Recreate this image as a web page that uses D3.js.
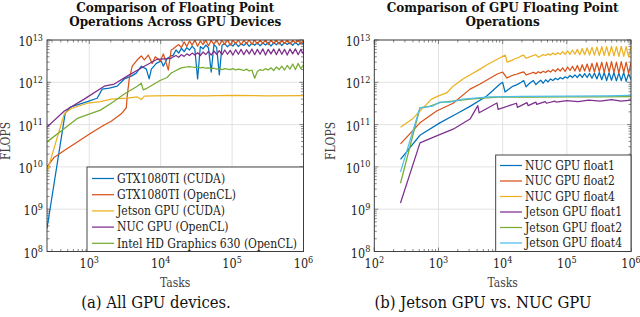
<!DOCTYPE html>
<html>
<head>
<meta charset="utf-8">
<script src="https://cdn.jsdelivr.net/npm/d3@7"></script>
<style>
  body { margin: 0; background: #fff; }
  svg { display: block; font-family: "DejaVu Serif Condensed", "DejaVu Serif", serif; }
</style>
</head>
<body>
<svg id="fig" width="640" height="317"></svg>
<script>
  // ------------------------------------------------------------
  // Data (tasks, FLOPS). Tail values are in units of 1e12 FLOPS
  // and share the task grid below.
  // ------------------------------------------------------------
  const tailTasks = [
    15000, 16400, 17900, 19500, 21300, 23200, 25300, 27600, 30100, 32900,
    35900, 39200, 42800, 46700, 51000, 55700, 60800, 66300, 72400, 79000,
    86200, 94100, 102700, 112100, 122400, 133600, 145800, 159200, 173700, 189600,
    207000, 225900, 246600, 269200, 293800, 320700, 350100, 382100, 417100, 455300,
    497000, 542500, 592200, 646400, 705600, 770200, 840700, 917700, 1000000
  ];

  // (a) all GPU devices
  const gtxCudaHead = [[256, 3.5e8], [460, 1.86e11], [540, 2.6e11], [940, 3.5e11], [1290, 4.2e11],
    [1520, 6.9e11], [1910, 7.3e11], [2460, 8.1e11], [3100, 1.2e12], [3880, 1.4e12], [4560, 1.65e12],
    [5360, 2.4e12], [6300, 2.05e12], [6900, 1.2e12], [7400, 2.05e12], [8700, 2.8e12], [10200, 3.2e12],
    [10900, 2.4e12], [12400, 3.7e12], [14000, 4.2e12]];
  const gtxCudaTail = [4.4, 5.8, 4.9, 6.4, 5.3, 6.6, 5.8, 7.2, 6.0, 1.2, 7.0, 6.2, 7.6, 6.5, 1.75, 7.8, 6.7,
    1.5, 7.5, 8.2, 6.9, 8.0, 7.2, 8.5, 7.0, 8.2, 7.4, 8.6, 7.1, 8.4, 7.5, 8.7, 7.3, 8.5, 7.6, 8.8, 7.2,
    8.6, 7.7, 8.9, 7.4, 8.7, 7.8, 8.8, 7.5, 8.9, 7.6, 8.6, 7.9];

  const gtxClHead = [[256, 1.0e10], [324, 1.7e10], [447, 2.45e10], [680, 3.9e10], [1060, 6.3e10],
    [1620, 9.8e10], [2030, 1.2e11], [2810, 1.8e11], [3300, 2.5e11], [3400, 4.7e11], [3630, 1.2e12],
    [4000, 2.4e12], [4700, 3.4e12], [5350, 4.2e12], [5900, 3.4e12], [6700, 4.4e12], [7600, 2.8e12],
    [8400, 4.0e12], [9900, 3.2e12], [10900, 4.7e12], [12800, 1.95e12], [14000, 5.8e12]];
  const gtxClTail = [6.2, 7.0, 7.8, 6.6, 9.0, 7.0, 9.5, 7.6, 10.0, 7.1, 9.5, 7.8, 9.9, 7.3, 9.7, 8.0,
    10.0, 7.5, 9.8, 7.9, 10.0, 7.6, 9.9, 8.1, 10.0, 7.7, 9.8, 8.2, 10.0, 7.9, 10.0, 8.0, 9.9, 8.3, 10.0,
    7.8, 10.0, 8.2, 9.9, 8.0, 10.0, 8.3, 10.0, 8.1, 9.9, 8.4, 10.0, 8.0, 9.8];

  const jetsonCuda = [[256, 7.6e9], [447, 1.8e11], [560, 2.4e11], [940, 3.2e11], [1430, 3.5e11],
    [2030, 4.0e11], [3400, 4.2e11], [4700, 4.5e11], [5350, 3.9e11], [5900, 4.7e11], [8000, 4.8e11],
    [15000, 4.85e11], [40000, 4.8e11], [100000, 4.9e11], [300000, 4.8e11], [1000000, 4.85e11]];

  const nucClHead = [[256, 8.7e10], [447, 2.1e11], [850, 4.0e11], [1620, 8.1e11], [2240, 9.1e11],
    [3400, 1.4e12], [5900, 2.4e12], [8950, 3.5e12], [14000, 3.7e12]];
  const nucClTail = [4.0, 4.3, 3.9, 4.5, 4.1, 4.7, 4.3, 4.9, 4.4, 5.0, 4.3, 5.2, 4.5, 5.4, 4.4, 5.5, 4.6,
    5.6, 4.5, 5.8, 4.6, 5.7, 4.4, 5.9, 4.6, 6.0, 4.5, 5.9, 4.7, 6.1, 4.5, 6.0, 4.6, 6.2, 4.4, 6.0, 4.7,
    6.1, 4.5, 6.2, 4.6, 6.0, 4.4, 6.1, 4.7, 6.2, 4.5, 6.0, 4.6];

  const intelHead = [[256, 3.9e10], [680, 1.4e11], [1430, 2.2e11], [2030, 3.2e11], [3100, 5.3e11],
    [4700, 8.1e11], [5350, 9.5e11], [5700, 6.6e11], [6500, 7.3e11], [9800, 1.1e12], [12300, 1.3e12],
    [14000, 1.65e12]];
  const intelTail = [1.75, 1.9, 2.05, 2.2, 2.25, 2.3, 2.35, 2.3, 2.25, 2.3, 2.2, 2.25, 2.15, 2.2, 2.1,
    2.15, 2.05, 2.1, 2.0, 2.1, 2.05, 2.0, 2.1, 1.95, 2.05, 2.0, 1.9, 2.05, 1.85, 1.95, 1.25, 1.8, 2.0,
    1.9, 2.1, 1.95, 2.2, 1.9, 2.3, 2.0, 2.4, 1.95, 2.5, 2.05, 2.7, 2.0, 2.8, 2.1, 2.6];

  // (b) Jetson GPU vs. NUC GPU
  const nucF1Head = [[256, 1.5e10], [515, 5.6e10], [1050, 1.1e11], [1920, 1.8e11], [3100, 2.7e11],
    [5600, 4.7e11], [9100, 9.1e11], [10000, 1.0e12], [10900, 5.9e11], [14000, 7.9e11]];
  const nucF1Tail = [0.82, 0.87, 0.93, 1.0, 1.1, 0.78, 0.9, 1.0, 1.1, 0.88, 1.0, 1.12, 0.95, 1.15, 1.02,
    1.2, 1.1, 1.25, 1.15, 1.3, 1.2, 1.35, 1.25, 1.45, 1.3, 1.5, 1.3, 1.55, 1.3, 1.6, 1.3, 1.62, 1.25,
    1.65, 1.2, 1.7, 1.15, 1.7, 1.1, 1.68, 1.12, 1.7, 1.08, 1.65, 1.1, 1.7, 1.05, 1.6, 1.15];

  const nucF2Head = [[256, 3.5e10], [515, 1.1e11], [935, 2.1e11], [1690, 3.2e11], [3100, 6.9e11],
    [4450, 9.1e11], [8100, 1.55e12], [10000, 1.75e12], [11700, 1.26e12], [14000, 1.45e12]];
  const nucF2Tail = [1.5, 1.55, 1.62, 1.7, 1.76, 1.5, 1.56, 1.64, 1.72, 1.6, 1.78, 1.65, 1.82, 1.7, 1.9,
    1.75, 2.0, 1.8, 2.1, 1.85, 2.2, 1.8, 2.3, 1.9, 2.4, 1.85, 2.5, 1.8, 2.6, 1.85, 2.7, 1.8, 2.8, 1.75,
    2.9, 1.8, 3.0, 1.7, 3.0, 1.75, 3.1, 1.7, 3.0, 1.65, 3.1, 1.7, 3.0, 1.6, 2.9];

  const nucF4Head = [[256, 8.7e10], [400, 1.4e11], [780, 4.0e11], [980, 4.7e11], [1340, 5.6e11],
    [1690, 8.1e11], [2410, 1.2e12], [4450, 2.05e12], [5700, 2.6e12], [9100, 3.8e12], [11000, 4.4e12],
    [11700, 3.0e12], [14000, 3.3e12]];
  const nucF4Tail = [3.5, 3.7, 3.9, 4.2, 4.4, 3.7, 3.9, 4.1, 4.3, 4.5, 3.9, 4.2, 4.5, 4.3, 4.7, 4.4, 4.9,
    4.5, 5.0, 4.6, 5.3, 4.6, 5.5, 4.6, 5.8, 4.6, 6.0, 4.5, 6.3, 4.5, 6.5, 4.4, 6.7, 4.4, 6.8, 4.3, 7.0,
    4.3, 7.0, 4.2, 7.1, 4.2, 7.0, 4.1, 7.1, 4.1, 7.0, 4.0, 6.9];

  const jetF1 = [[256, 1.4e9], [515, 3.7e10], [935, 5.4e10], [1690, 7.8e10], [3100, 1.35e11],
    [4100, 2.8e11], [4300, 1.9e11], [8150, 3.25e11], [8500, 2.3e11], [16400, 3.2e11], [17000, 2.55e11],
    [24000, 3.3e11], [25000, 2.8e11], [33000, 3.4e11], [34000, 3.0e11], [46000, 3.5e11], [48000, 3.2e11],
    [65000, 3.6e11], [68000, 3.4e11], [100000, 3.7e11], [150000, 3.5e11], [220000, 3.8e11],
    [330000, 3.6e11], [500000, 3.9e11], [700000, 3.6e11], [1000000, 3.8e11]];
  const jetF2 = [[256, 4.1e9], [515, 2.5e11], [740, 2.75e11], [1050, 3.3e11], [1690, 3.6e11],
    [3100, 4.0e11], [5600, 4.3e11], [10000, 4.5e11], [30000, 4.45e11], [100000, 4.55e11],
    [300000, 4.5e11], [1000000, 4.6e11]];
  const jetF4 = [[256, 7.6e9], [515, 2.5e11], [820, 2.75e11], [1050, 3.4e11], [1500, 3.4e11],
    [2400, 4.0e11], [4000, 4.3e11], [6300, 4.5e11], [20000, 4.65e11], [100000, 4.7e11],
    [400000, 4.75e11], [1000000, 4.9e11]];

  const labelsA = ["GTX1080TI (CUDA)", "GTX1080TI (OpenCL)", "Jetson GPU (CUDA)",
    "NUC GPU (OpenCL)", "Intel HD Graphics 630 (OpenCL)"];
  const labelsB = ["NUC GPU float1", "NUC GPU float2", "NUC GPU float4",
    "Jetson GPU float1", "Jetson GPU float2", "Jetson GPU float4"];
  const colors = ["#0072bd", "#d95319", "#edb120", "#7e2f8e", "#77ac30", "#4dbeee"];

  const withTail = (head, tail) => head.concat(tailTasks.map((t, i) => [t, tail[i] * 1e12]));

  const panels = [
    {
      id: "a", left: 47, right: 303.5, top: 40, bottom: 251.5, xDomain: [256, 1e6],
      title: ["Comparison of Floating Point", "Operations Across GPU Devices"],
      caption: "(a) All GPU devices.", captionX: 156, ylabelX: 10,
      series: [withTail(gtxCudaHead, gtxCudaTail), withTail(gtxClHead, gtxClTail), jetsonCuda,
        withTail(nucClHead, nucClTail), withTail(intelHead, intelTail)],
      labels: labelsA,
      legend: { x: 87, y: 167, w: 216.5, h: 84.5, row0: 178.5, step: 16.2, lx0: 92, lx1: 114, tx: 117 }
    },
    {
      id: "b", left: 374.3, right: 631, top: 40, bottom: 251.5, xDomain: [100, 1e6],
      title: ["Comparison of GPU Floating Point", "Operations"],
      caption: "(b) Jetson GPU vs. NUC GPU", captionX: 483, ylabelX: 335,
      series: [withTail(nucF1Head, nucF1Tail), withTail(nucF2Head, nucF2Tail), withTail(nucF4Head, nucF4Tail),
        jetF1, jetF2, jetF4],
      labels: labelsB,
      legend: { x: 495.7, y: 155, w: 135.3, h: 96.5, row0: 165.5, step: 15.5, lx0: 500, lx1: 522, tx: 525 }
    }
  ];

  const svg = d3.select("#fig");

  function drawPanel(p) {
    const x = d3.scaleLog().domain(p.xDomain).range([p.left, p.right]);
    const y = d3.scaleLog().domain([1e8, 1e13]).range([p.bottom, p.top]);
    const g = svg.append("g");
    const isMajor = v => Math.abs(Math.log10(v) - Math.round(Math.log10(v))) < 1e-9;
    const xt = x.ticks(), yt = y.ticks();

    g.append("clipPath").attr("id", "clip-" + p.id).append("rect")
      .attr("x", p.left).attr("y", p.top)
      .attr("width", p.right - p.left).attr("height", p.bottom - p.top);

    // Major grid
    const grid = g.append("g").attr("stroke", "#dcdcdc").attr("stroke-width", 0.8);
    xt.filter(isMajor).forEach(v => grid.append("line")
      .attr("x1", x(v)).attr("x2", x(v)).attr("y1", p.top).attr("y2", p.bottom));
    yt.filter(isMajor).forEach(v => grid.append("line")
      .attr("x1", p.left).attr("x2", p.right).attr("y1", y(v)).attr("y2", y(v)));

    // Ticks, inside on all four sides
    const ticks = g.append("g").attr("stroke", "#555").attr("stroke-width", 0.7);
    xt.forEach(v => {
      const len = isMajor(v) ? 4 : 2.5;
      ticks.append("line").attr("x1", x(v)).attr("x2", x(v)).attr("y1", p.bottom).attr("y2", p.bottom - len);
      ticks.append("line").attr("x1", x(v)).attr("x2", x(v)).attr("y1", p.top).attr("y2", p.top + len);
    });
    yt.forEach(v => {
      const len = isMajor(v) ? 4 : 2.5;
      ticks.append("line").attr("x1", p.left).attr("x2", p.left + len).attr("y1", y(v)).attr("y2", y(v));
      ticks.append("line").attr("x1", p.right).attr("x2", p.right - len).attr("y1", y(v)).attr("y2", y(v));
    });

    // Series
    const line = d3.line().x(d => x(d[0])).y(d => y(d[1]));
    const lines = g.append("g").attr("clip-path", "url(#clip-" + p.id + ")");
    p.series.forEach((s, i) => {
      lines.append("path").attr("d", line(s))
        .attr("fill", "none").attr("stroke", colors[i])
        .attr("stroke-width", 1.25).attr("stroke-linejoin", "round");
    });

    // Frame
    g.append("rect").attr("x", p.left).attr("y", p.top)
      .attr("width", p.right - p.left).attr("height", p.bottom - p.top)
      .attr("fill", "none").attr("stroke", "#333").attr("stroke-width", 0.9);

    // Tick labels
    const power = (sel, v) => {
      sel.append("tspan").text("10");
      sel.append("tspan").attr("dy", -5.5).attr("font-size", 9).text(Math.round(Math.log10(v)));
    };
    xt.filter(isMajor).forEach(v => {
      g.append("text").attr("x", x(v)).attr("y", 268).attr("text-anchor", "middle")
        .attr("font-size", 12.5).attr("fill", "#222").call(power, v);
    });
    yt.filter(isMajor).forEach(v => {
      g.append("text").attr("x", p.left - 4).attr("y", y(v) + 6).attr("text-anchor", "end")
        .attr("font-size", 12.5).attr("fill", "#222").call(power, v);
    });

    // Axis labels
    const cx = (p.left + p.right) / 2;
    g.append("text").attr("x", cx).attr("y", 286.5).attr("text-anchor", "middle")
      .attr("font-size", 12).attr("fill", "#444").text("Tasks");
    g.append("text").attr("transform", `translate(${p.ylabelX},141) rotate(-90)`)
      .attr("text-anchor", "middle").attr("font-size", 12).attr("fill", "#444").text("FLOPS");

    // Title
    p.title.forEach((t, i) => {
      g.append("text").attr("x", cx).attr("y", 11.5 + i * 14).attr("text-anchor", "middle")
        .attr("font-family", "DejaVu Serif").attr("font-size", 12)
        .attr("font-weight", "bold").attr("fill", "#111").text(t);
    });

    // Legend
    const L = p.legend;
    const lg = g.append("g");
    lg.append("rect").attr("x", L.x).attr("y", L.y).attr("width", L.w).attr("height", L.h)
      .attr("fill", "#fff").attr("stroke", "#333").attr("stroke-width", 0.9);
    p.labels.forEach((lab, i) => {
      const yy = L.row0 + i * L.step;
      lg.append("line").attr("x1", L.lx0).attr("x2", L.lx1).attr("y1", yy).attr("y2", yy)
        .attr("stroke", colors[i]).attr("stroke-width", 1.25);
      lg.append("text").attr("x", L.tx).attr("y", yy + 4.3).attr("font-size", 12)
        .attr("fill", "#222").text(lab);
    });

    // Caption
    svg.append("text").attr("x", p.captionX).attr("y", 308).attr("text-anchor", "middle")
      .attr("font-size", 16.5).attr("fill", "#111").text(p.caption);
  }

  panels.forEach(drawPanel);
</script>
</body>
</html>
